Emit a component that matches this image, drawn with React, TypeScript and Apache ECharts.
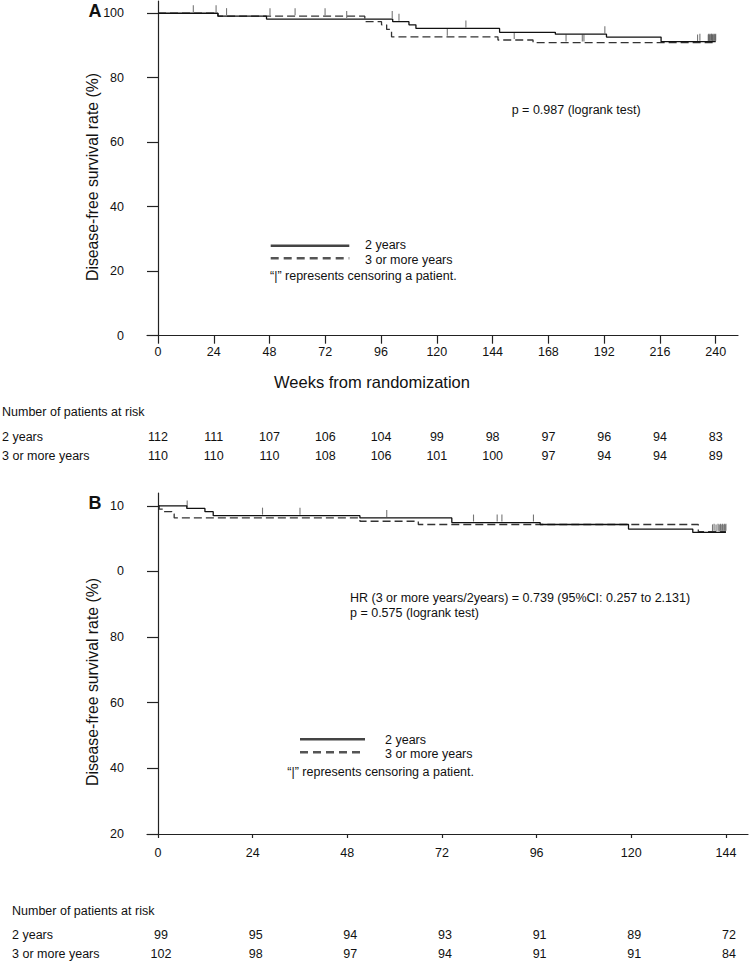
import React, { useEffect, useRef } from 'react';
import * as echarts from 'echarts';

const FONT = '"Liberation Sans", Arial, Helvetica, sans-serif';

// ---------- Panel A ----------
const weekTicksA = [0, 24, 48, 72, 96, 120, 144, 168, 192, 216, 240];
const yTicksA = [0, 20, 40, 60, 80, 100];
const yTickLabelsA = ['0', '20', '40', '60', '80', '100'];
const atRiskA2 = [112, 111, 107, 106, 104, 99, 98, 97, 96, 94, 83];
const atRiskA3 = [110, 110, 110, 108, 106, 101, 100, 97, 94, 94, 89];

const kmA2Weeks = [0, 25.8, 46.7, 101, 108, 111, 147, 171, 193, 216.5, 240];
const kmA2Surv = [100, 99.1, 98.2, 97.4, 96.4, 95.3, 94.1, 93.5, 92.6, 91.2, 91.2];
const kmA3Weeks = [0, 25.8, 89, 96.2, 98.4, 100.5, 146.3, 161.4, 240];
const kmA3Surv = [100, 99.1, 97.4, 96.4, 95.0, 92.7, 91.7, 90.9, 90.9];

const censA2Weeks = [15.2, 25, 81.2, 100.8, 103.7, 132.5, 192.3, 233.2, 237, 237.6, 238.2, 238.8, 239.4, 240];
const censA2Surv = [100, 100, 98.2, 98.2, 97.4, 95.3, 93.5, 91.2, 91.2, 91.2, 91.2, 91.2, 91.2, 91.2];
const censA3Weeks = [29.5, 48.2, 59, 71.9, 124.5, 153.3, 175.6, 182.6, 183.3, 232.2, 236.8, 237.4, 238, 238.6, 239.2, 239.8];
const censA3Surv = [99.1, 99.1, 99.1, 99.1, 92.7, 91.7, 90.9, 90.9, 90.9, 90.9, 90.9, 90.9, 90.9, 90.9, 90.9, 90.9];

// ---------- Panel B ----------
const weekTicksB = [0, 24, 48, 72, 96, 120, 144];
const yTicksB = [0, 20, 40, 60, 80, 100];
const yTickLabelsB = ['20', '40', '60', '80', '0', '10'];
const atRiskB2 = [99, 95, 94, 93, 91, 89, 72];
const atRiskB3 = [102, 98, 97, 94, 91, 91, 84];

const kmB2Weeks = [0, 7.3, 11.9, 14, 51.2, 74.5, 96.9, 119.3, 135.6, 144];
const kmB2Surv = [100, 99.2, 98.2, 97.0, 96.3, 94.9, 94.3, 92.9, 91.9, 91.9];
const kmB3Weeks = [0, 0.3, 1.35, 3.5, 4.1, 51.2, 66, 137, 144];
const kmB3Surv = [100, 99.0, 98.2, 97.5, 96.3, 95.3, 94.3, 92.1, 92.1];

const censB2Weeks = [7.4, 26.5, 36, 58, 80, 86, 87.2, 95.2, 140.6, 141.5, 142.3, 142.8, 143.3, 143.8];
const censB2Surv = [99.2, 97.0, 97.0, 96.3, 94.9, 94.9, 94.9, 94.9, 91.9, 91.9, 91.9, 91.9, 91.9, 91.9];
const censB3Weeks = [141, 142, 142.6, 143.1, 143.6, 144];
const censB3Surv = [92.1, 92.1, 92.1, 92.1, 92.1, 92.1];

const zip = (a: number[], b: number[]) => a.map((v, i) => [v, b[i]]);

const AX = { color: '#222', width: 1.2 };
const FS = 12.5;

function xAxisCfg(gi: number, min: number, max: number, ticks: number[], tickLen: number, margin: number) {
  return {
    gridIndex: gi, type: 'value', min, max,
    axisLine: { show: true, onZero: true, lineStyle: AX },
    axisTick: { show: true, length: tickLen, customValues: ticks, lineStyle: AX },
    axisLabel: { customValues: ticks, margin, fontSize: FS, color: '#111', fontFamily: FONT },
    splitLine: { show: false },
  };
}
function yAxisCfg(gi: number, max: number, ticks: number[], labels: string[]) {
  return {
    gridIndex: gi, type: 'value', min: 0, max,
    axisLine: { show: true, onZero: true, lineStyle: AX },
    axisTick: { show: true, length: 11, customValues: ticks, lineStyle: AX },
    axisLabel: {
      customValues: ticks, margin: 23, fontSize: FS, color: '#111', fontFamily: FONT,
      formatter: (v: number) => { const i = ticks.indexOf(Math.round(v)); return i >= 0 ? labels[i] : ''; },
    },
    splitLine: { show: false },
  };
}
function kmLine(gi: number, data: number[][], dashed: boolean) {
  return {
    type: 'line', xAxisIndex: gi, yAxisIndex: gi, data, step: 'end', showSymbol: false, symbol: 'none', silent: true,
    lineStyle: { color: dashed ? '#333' : '#111', width: 1.3, type: dashed ? [8, 4] : 'solid' },
  };
}
function censor(gi: number, data: number[][]) {
  return {
    type: 'scatter', xAxisIndex: gi, yAxisIndex: gi, data, silent: true,
    symbol: 'rect', symbolSize: [1.1, 7], symbolOffset: [0, -4.5],
    itemStyle: { color: '#555' },
  };
}

const txt = (x: number, y: number, text: string, opts: any = {}) => ({
  type: 'text', x, y, silent: true, rotation: opts.rotation || 0,
  style: {
    text, fill: '#111',
    font: `${opts.bold ? 'bold ' : ''}${opts.size || FS}px ${FONT}`,
    align: opts.align || 'left', textAlign: opts.align || 'left',
    verticalAlign: 'middle', textVerticalAlign: 'middle',
  },
});
const seg = (x1: number, y1: number, x2: number, y2: number, dashed: boolean) => ({
  type: 'line', silent: true, shape: { x1, y1, x2, y2 },
  style: { stroke: dashed ? '#555' : '#444', lineWidth: 2.6, lineDash: dashed ? [8, 5] : null },
});

export default function App() {
  const ref = useRef<HTMLDivElement>(null);
  useEffect(() => {
    document.body.style.margin = '0';
    const chart = echarts.init(ref.current!, null, { renderer: 'svg' });
    chart.setOption({
      animation: false,
      backgroundColor: '#fff',
      textStyle: { fontFamily: FONT },
      grid: [
        { left: 147, top: 1, width: 591, height: 334.7 },
        { left: 147, top: 493, width: 601, height: 341 },
      ],
      xAxis: [
        xAxisCfg(0, -4.73, 249.6, weekTicksA, 8, 10),
        xAxisCfg(1, -2.79, 149.6, weekTicksB, 4, 12),
      ],
      yAxis: [
        yAxisCfg(0, 103.8, yTicksA, yTickLabelsA),
        yAxisCfg(1, 103.9, yTicksB, yTickLabelsB),
      ],
      series: [
        kmLine(0, zip(kmA3Weeks, kmA3Surv), true),
        kmLine(0, zip(kmA2Weeks, kmA2Surv), false),
        censor(0, zip(censA2Weeks, censA2Surv)),
        censor(0, zip(censA3Weeks, censA3Surv)),
        kmLine(1, zip(kmB3Weeks, kmB3Surv), true),
        kmLine(1, zip(kmB2Weeks, kmB2Surv), false),
        censor(1, zip(censB2Weeks, censB2Surv)),
        censor(1, zip(censB3Weeks, censB3Surv)),
      ],
    });

    const pxA = (w: number) => chart.convertToPixel({ xAxisIndex: 0 }, w) as number;
    const pxB = (w: number) => chart.convertToPixel({ xAxisIndex: 1 }, w) as number;

    const els: any[] = [
      txt(95, 10.5, 'A', { bold: true, size: 18, align: 'center' }),
      txt(95, 502.5, 'B', { bold: true, size: 18, align: 'center' }),
      txt(92, 177, 'Disease-free survival rate (%)', { size: 15.8, align: 'center', rotation: Math.PI / 2 }),
      txt(92, 682, 'Disease-free survival rate (%)', { size: 15.8, align: 'center', rotation: Math.PI / 2 }),
      txt(511.7, 110, 'p = 0.987 (logrank test)'),
      seg(270.7, 245.7, 349.3, 245.7, false),
      seg(270.7, 258.3, 349.3, 258.3, true),
      txt(365, 244.5, '2 years'),
      txt(365, 260, '3 or more years'),
      txt(270, 276, '\u201c|\u201d represents censoring a patient.'),
      txt(372, 382, 'Weeks from randomization', { size: 16.5, align: 'center' }),
      txt(2, 411.7, 'Number of patients at risk'),
      txt(2, 436.7, '2 years'),
      txt(2, 456, '3 or more years'),
      txt(350, 598.3, 'HR (3 or more years/2years) = 0.739 (95%CI: 0.257 to 2.131)'),
      txt(350, 613, 'p = 0.575 (logrank test)'),
      seg(300, 739.3, 365, 739.3, false),
      seg(300, 752.3, 365, 752.3, true),
      txt(385, 739.5, '2 years'),
      txt(385, 753.5, '3 or more years'),
      txt(287.3, 772.3, '\u201c|\u201d represents censoring a patient.'),
      txt(12, 910.7, 'Number of patients at risk'),
      txt(12, 935, '2 years'),
      txt(12, 954.3, '3 or more years'),
    ];
    weekTicksA.forEach((w, i) => {
      els.push(txt(pxA(w), 436.7, String(atRiskA2[i]), { align: 'center' }));
      els.push(txt(pxA(w), 456, String(atRiskA3[i]), { align: 'center' }));
    });
    weekTicksB.forEach((w, i) => {
      els.push(txt(pxB(w) + 3, 935, String(atRiskB2[i]), { align: 'center' }));
      els.push(txt(pxB(w) + 3, 954.3, String(atRiskB3[i]), { align: 'center' }));
    });
    chart.setOption({ graphic: { elements: els } });

    return () => chart.dispose();
  }, []);
  return <div ref={ref} style={{ width: 750, height: 962 }} />;
}
